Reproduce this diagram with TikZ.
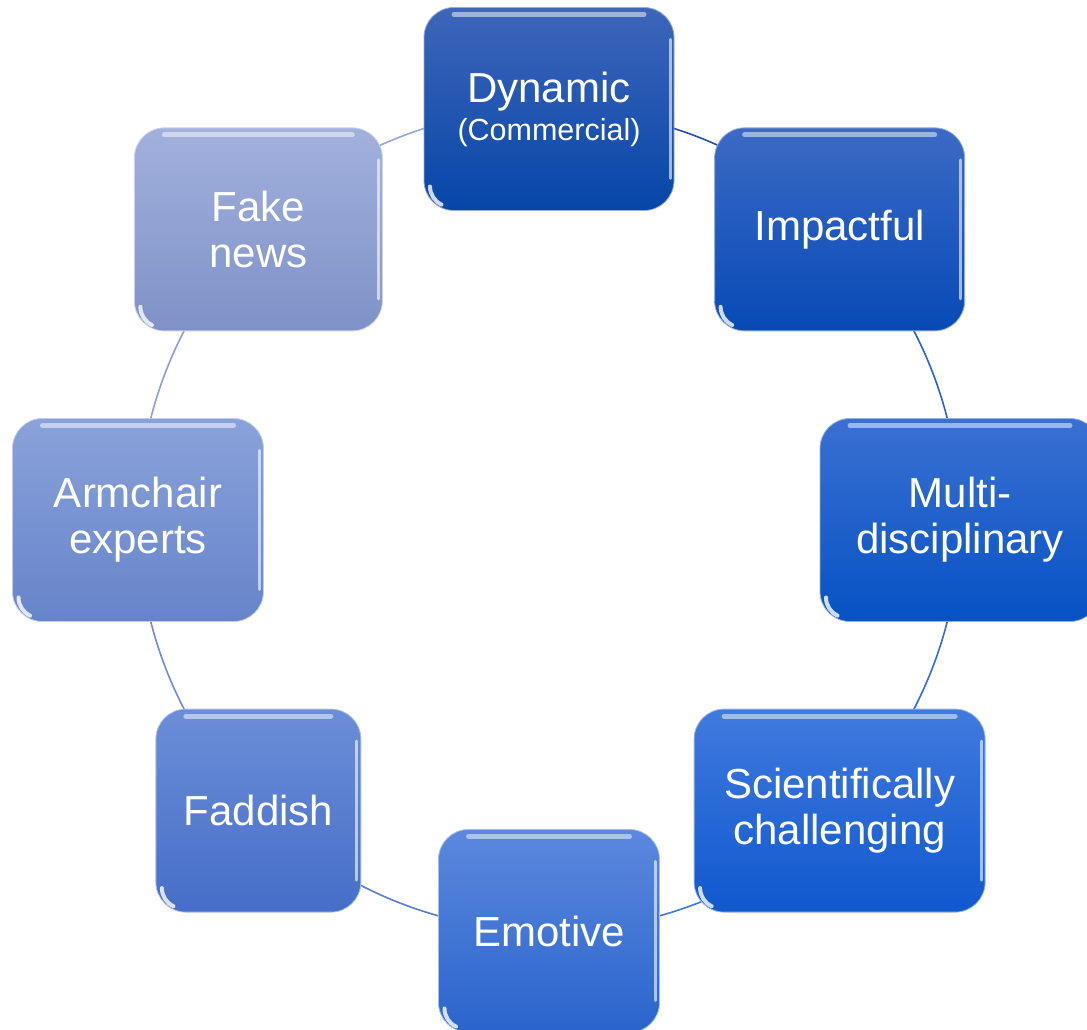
\documentclass[tikz,border=0pt]{standalone}
\usepackage{fontspec}
\setmainfont{Liberation Sans}
\usetikzlibrary{backgrounds}

% box fills (top / bottom of each vertical gradient)
\definecolor{dynT}{RGB}{62,102,186}   \definecolor{dynB}{RGB}{6,70,168}
\definecolor{impT}{RGB}{60,106,196}   \definecolor{impB}{RGB}{6,74,182}
\definecolor{mulT}{RGB}{58,112,210}   \definecolor{mulB}{RGB}{6,82,196}
\definecolor{sciT}{RGB}{64,122,222}   \definecolor{sciB}{RGB}{16,88,206}
\definecolor{emoT}{RGB}{92,136,222}   \definecolor{emoB}{RGB}{42,100,204}
\definecolor{fadT}{RGB}{108,142,216}  \definecolor{fadB}{RGB}{70,110,200}
\definecolor{armT}{RGB}{138,162,218}  \definecolor{armB}{RGB}{102,132,202}
\definecolor{fakT}{RGB}{162,176,220}  \definecolor{fakB}{RGB}{126,146,200}
% ring segment colours
\definecolor{r1}{RGB}{34,82,172}
\definecolor{r2}{RGB}{40,100,200}
\definecolor{r3}{RGB}{50,110,210}
\definecolor{r4}{RGB}{62,120,216}
\definecolor{r5}{RGB}{86,126,212}
\definecolor{r6}{RGB}{114,140,208}
\definecolor{r7}{RGB}{140,160,212}
\definecolor{r8}{RGB}{152,168,214}

\newcommand{\boxfont}{\fontsize{42}{46}\selectfont}
\newcommand{\subfont}{\fontsize{30.5}{34}\selectfont}

\tikzset{
  cbox/.style 2 args={
    rounded corners=30pt, minimum height=203pt, inner sep=0pt,
    text=white, align=center, font=\boxfont,
    top color=#1, bottom color=#2, draw=#1!55!white, line width=0.8pt,
    path picture={
      \draw[white,opacity=0.5,line width=5pt,line cap=round]
        ([xshift=30pt,yshift=-7pt]path picture bounding box.north west) --
        ([xshift=-30pt,yshift=-7pt]path picture bounding box.north east);
      \draw[white,opacity=0.6,line width=3pt,line cap=round]
        ([xshift=-4pt,yshift=-32pt]path picture bounding box.north east) --
        ([xshift=-4pt,yshift=32pt]path picture bounding box.south east);
      \draw[white,opacity=0.8,line width=4pt,line cap=round]
        ([xshift=6pt,yshift=24pt]path picture bounding box.south west)
        arc[start angle=180,end angle=245,radius=20pt];
    }},
  ring/.style={line width=1.6pt}
}

\begin{document}
\begin{tikzpicture}[x=1pt,y=1pt]
\useasboundingbox (0,0) rectangle (1087,1030);
\clip (0,0) rectangle (1087,1030);

\coordinate (c) at (549,510);

\node[cbox={dynT}{dynB}, minimum width=250pt] (dyn) at ([shift={(90:411)}]c)
  {Dynamic\\[-8pt]{\subfont (Commercial)}};
\node[cbox={impT}{impB}, minimum width=250pt] (imp) at ([shift={(45:411)}]c) {Impactful};
\node[cbox={mulT}{mulB}, minimum width=280pt] (mul) at ([shift={(0:411)}]c) {Multi-\\disciplinary};
\node[cbox={sciT}{sciB}, minimum width=291pt] (sci) at ([shift={(-45:411)}]c) {Scientifically\\challenging};
\node[cbox={emoT}{emoB}, minimum width=221pt] (emo) at ([shift={(-90:411)}]c) {Emotive};
\node[cbox={fadT}{fadB}, minimum width=205pt] (fad) at ([shift={(-135:411)}]c) {Faddish};
\node[cbox={armT}{armB}, minimum width=251pt] (arm) at ([shift={(180:411)}]c) {Armchair\\experts};
\node[cbox={fakT}{fakB}, minimum width=248pt] (fak) at ([shift={(135:411)}]c) {Fake\\news};

\begin{pgfonlayer}{background}
  \fill[white] (0,0) rectangle (1087,1030);
  \draw[ring,r1] (dyn.center) arc[start angle=90,end angle=45,radius=411];
  \draw[ring,r2] (imp.center) arc[start angle=45,end angle=0,radius=411];
  \draw[ring,r3] (mul.center) arc[start angle=0,end angle=-45,radius=411];
  \draw[ring,r4] (sci.center) arc[start angle=-45,end angle=-90,radius=411];
  \draw[ring,r5] (emo.center) arc[start angle=-90,end angle=-135,radius=411];
  \draw[ring,r6] (fad.center) arc[start angle=-135,end angle=-180,radius=411];
  \draw[ring,r7] (arm.center) arc[start angle=180,end angle=135,radius=411];
  \draw[ring,r8] (fak.center) arc[start angle=135,end angle=90,radius=411];
\end{pgfonlayer}
\end{tikzpicture}
\end{document}
